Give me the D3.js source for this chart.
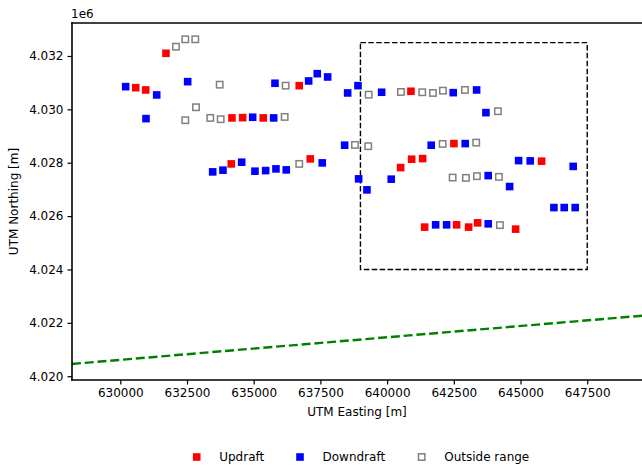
<!DOCTYPE html>
<html>
<head>
<meta charset="utf-8">
<script src="https://cdn.jsdelivr.net/npm/d3@7"></script>
<style>
  html, body { margin: 0; padding: 0; background: #fff; }
  svg { display: block; }
  text { font-family: "DejaVu Sans", sans-serif; fill: #000; }
</style>
</head>
<body>
<div id="chart"></div>
<script>
// Axis limits (UTM metres)
const xLimits = [628190, 649590];
const yLimits = [4019858, 4033236];
const xTicks = [630000, 632500, 635000, 637500, 640000, 642500, 645000, 647500];
const yTicks = [4020000, 4022000, 4024000, 4026000, 4028000, 4030000, 4032000];

// Measurement locations, [easting, northing]
const updraft = [
  [630577, 4030813], [630952, 4030727], [631712, 4032101], [634185, 4029679],
  [634586, 4029690], [635358, 4029679], [636707, 4030888], [634159, 4027956],
  [637119, 4028144], [640893, 4030678], [642504, 4028717], [640507, 4027818],
  [640919, 4028132], [641331, 4028155], [645790, 4028058], [641406, 4025587],
  [642605, 4025673], [643055, 4025587], [643392, 4025748], [644816, 4025512]
];
const downdraft = [
  [630202, 4030851], [631364, 4030540], [630963, 4029653], [632525, 4031038],
  [634961, 4029705], [635748, 4029679], [635797, 4030978], [637059, 4031064],
  [637382, 4031337], [637771, 4031214], [638521, 4030615], [638907, 4030888],
  [638408, 4028657], [633462, 4027657], [633848, 4027721], [634549, 4028020],
  [635047, 4027683], [635448, 4027706], [635834, 4027769], [636220, 4027732],
  [637569, 4027994], [638933, 4027395], [639244, 4026983], [640154, 4027384],
  [639795, 4030641], [642478, 4030626], [643354, 4030727], [643703, 4029877],
  [641653, 4028657], [642927, 4028717], [644928, 4028080], [645363, 4028069],
  [646974, 4027863], [643789, 4027518], [644591, 4027107], [646251, 4026320],
  [646637, 4026320], [647049, 4026320], [641818, 4025673], [642230, 4025673],
  [643789, 4025710]
];
const outsideRange = [
  [632087, 4032348], [632436, 4032625], [632810, 4032625], [633725, 4030925],
  [632436, 4029593], [632837, 4030079], [633372, 4029679], [633762, 4029630],
  [636160, 4029716], [636198, 4030888], [636707, 4027956], [638794, 4028668],
  [639308, 4030551], [639293, 4028619], [640518, 4030652], [641316, 4030641],
  [641717, 4030615], [642092, 4030701], [642916, 4030727], [644152, 4029930],
  [642080, 4028705], [643339, 4028754], [642455, 4027444], [642953, 4027432],
  [643366, 4027496], [644190, 4027470], [644227, 4025661]
];

// Study area box [east min, east max], [north min, north max]
const boxEasting = [639000, 647500];
const boxNorthing = [4024000, 4032500];

// Boundary line endpoints
const boundary = [[628190, 4020460], [649590, 4022270]];

const legendItems = ["Updraft", "Downdraft", "Outside range"];

const W = 642, H = 468;
const plot = { left: 72, top: 23, right: 643, bottom: 380 };

const svg = d3.select("#chart").append("svg")
  .attr("width", W).attr("height", H);

const x = d3.scaleLinear().domain(xLimits).range([plot.left, plot.right]);
const y = d3.scaleLinear().domain(yLimits).range([plot.bottom, plot.top]);

const clip = svg.append("defs").append("clipPath").attr("id", "plotclip")
  .append("rect")
  .attr("x", plot.left).attr("y", plot.top)
  .attr("width", plot.right - plot.left).attr("height", plot.bottom - plot.top);

const g = svg.append("g").attr("clip-path", "url(#plotclip)");

// boundary line
g.append("path")
  .datum(boundary)
  .attr("d", d3.line().x(d => x(d[0])).y(d => y(d[1])))
  .attr("fill", "none")
  .attr("stroke", "#008000")
  .attr("stroke-width", 2.4)
  .attr("stroke-dasharray", "9,3.8");

// study area
g.append("rect")
  .attr("x", x(boxEasting[0]))
  .attr("y", y(boxNorthing[1]))
  .attr("width", x(boxEasting[1]) - x(boxEasting[0]))
  .attr("height", y(boxNorthing[0]) - y(boxNorthing[1]))
  .attr("fill", "none")
  .attr("stroke", "#000")
  .attr("stroke-width", 1.4)
  .attr("stroke-dasharray", "5.5,2.4");

const ms = 7.6;
function filled(data, color) {
  g.append("g").selectAll("rect").data(data).join("rect")
    .attr("x", d => x(d[0]) - ms / 2)
    .attr("y", d => y(d[1]) - ms / 2)
    .attr("width", ms).attr("height", ms)
    .attr("fill", color);
}
filled(updraft, "#ff0000");
filled(downdraft, "#0000ff");

const hs = 6.4;
g.append("g").selectAll("rect").data(outsideRange).join("rect")
  .attr("x", d => x(d[0]) - hs / 2)
  .attr("y", d => y(d[1]) - hs / 2)
  .attr("width", hs).attr("height", hs)
  .attr("fill", "none")
  .attr("stroke", "#808080")
  .attr("stroke-width", 1.5);

// axes
const xAxis = d3.axisBottom(x).tickValues(xTicks).tickFormat(d3.format("d"))
  .tickSizeInner(4.5).tickSizeOuter(0).tickPadding(4);
const yAxis = d3.axisLeft(y).tickValues(yTicks).tickFormat(d => (d / 1e6).toFixed(3))
  .tickSizeInner(4.5).tickSizeOuter(0).tickPadding(4);

const gx = svg.append("g").attr("transform", `translate(0,${plot.bottom})`).call(xAxis);
const gy = svg.append("g").attr("transform", `translate(${plot.left},0)`).call(yAxis);
[gx, gy].forEach(a => {
  a.select(".domain").remove();
  a.selectAll(".tick line").attr("stroke", "#000").attr("stroke-width", 1.2);
  a.selectAll(".tick text").attr("font-size", 12).attr("font-family", "DejaVu Sans").attr("fill", "#222");
});

// spines
svg.append("line").attr("x1", plot.left).attr("x2", plot.left)
  .attr("y1", plot.top).attr("y2", plot.bottom)
  .attr("stroke", "#000").attr("stroke-width", 1.6).attr("stroke-linecap", "square");
svg.append("line").attr("x1", plot.left).attr("x2", plot.right)
  .attr("y1", plot.bottom).attr("y2", plot.bottom)
  .attr("stroke", "#000").attr("stroke-width", 1.6).attr("stroke-linecap", "square");
svg.append("line").attr("x1", plot.left).attr("x2", plot.right)
  .attr("y1", plot.top).attr("y2", plot.top)
  .attr("stroke", "#000").attr("stroke-width", 1.6).attr("stroke-linecap", "square");

// offset label
svg.append("text").attr("x", plot.left - 1).attr("y", 18)
  .attr("font-size", 12).attr("fill", "#222").text("1e6");

// axis titles
svg.append("text").attr("x", (plot.left + 642) / 2).attr("y", 416)
  .attr("text-anchor", "middle").attr("font-size", 12).attr("fill", "#222")
  .text("UTM Easting [m]");
svg.append("text")
  .attr("transform", `translate(18,${(plot.top + plot.bottom) / 2}) rotate(-90)`)
  .attr("text-anchor", "middle").attr("font-size", 12).attr("fill", "#222")
  .text("UTM Northing [m]");

// legend
const legend = svg.append("g").attr("transform", "translate(0,457)");
const legendX = [196.7, 300, 421.7];
legendItems.forEach((name, i) => {
  const cx = legendX[i];
  if (i < 2) {
    legend.append("rect").attr("x", cx - ms / 2).attr("y", -ms / 2)
      .attr("width", ms).attr("height", ms)
      .attr("fill", i === 0 ? "#ff0000" : "#0000ff");
  } else {
    legend.append("rect").attr("x", cx - hs / 2).attr("y", -hs / 2)
      .attr("width", hs).attr("height", hs)
      .attr("fill", "none").attr("stroke", "#808080").attr("stroke-width", 1.5);
  }
  legend.append("text").attr("x", cx + 22.5).attr("y", 4.3)
    .attr("font-size", 12).attr("fill", "#222").text(name);
});
</script>
</body>
</html>
